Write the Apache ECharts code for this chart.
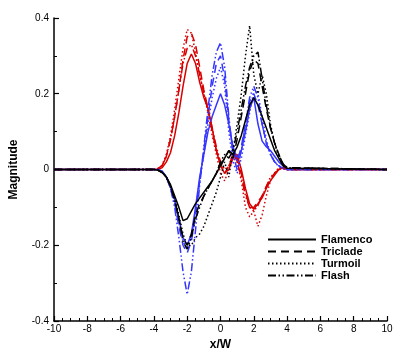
<!DOCTYPE html>
<html>
<head>
<meta charset="utf-8">
<script src="https://cdn.jsdelivr.net/npm/echarts@6/dist/echarts.min.js"></script>
<style>
html, body { margin: 0; padding: 0; background: #fff; }
#profile { width: 407px; height: 362px; }
</style>
</head>
<body>
<div id="profile"></div>
<script>
/*****Data start*****/
var xs = [-10, -4, -3.75, -3.5, -3.25, -3, -2.75, -2.5, -2.25, -2, -1.75, -1.5, -1.25, -1, -0.75, -0.5, -0.25,
	0, 0.25, 0.5, 0.75, 1, 1.25, 1.5, 1.75, 2, 2.25, 2.5, 2.75, 3, 3.25, 3.5, 3.75, 4, 10];

// red set
var flamencoRed = [0, 0, 0, 0.005, 0.02, 0.045, 0.09, 0.15, 0.22, 0.28, 0.305, 0.28, 0.23, 0.19, 0.16, 0.11, 0.05,
	0.01, -0.01, 0, 0.03, 0.04, 0, -0.05, -0.09, -0.105, -0.09, -0.075, -0.05, -0.03, -0.015, 0, 0.005, 0, 0];
var tricladeRed = [0, 0, 0.003, 0.01, 0.035, 0.08, 0.14, 0.21, 0.29, 0.35, 0.36, 0.33, 0.27, 0.21, 0.16, 0.10, 0.05,
	0.015, -0.01, 0.01, 0.04, 0.03, -0.01, -0.06, -0.10, -0.10, -0.085, -0.07, -0.045, -0.025, -0.01, 0, 0.005, 0, 0];
var turmoilRed = [0, 0, 0.003, 0.012, 0.04, 0.09, 0.16, 0.24, 0.32, 0.37, 0.36, 0.31, 0.25, 0.20, 0.15, 0.09, 0.04,
	-0.01, -0.03, 0, 0.05, 0.02, -0.03, -0.10, -0.125, -0.11, -0.15, -0.12, -0.07, -0.03, -0.01, 0.005, 0.003, 0, 0];
var flashRed = [0, 0, 0.003, 0.01, 0.035, 0.08, 0.14, 0.21, 0.28, 0.32, 0.33, 0.30, 0.25, 0.20, 0.16, 0.11, 0.06,
	0.02, 0, 0.01, 0.03, 0.02, -0.02, -0.07, -0.10, -0.11, -0.095, -0.07, -0.045, -0.02, -0.01, 0, 0.003, 0, 0];

// blue set
var flamencoBlue = [0, 0, 0, -0.005, -0.02, -0.045, -0.08, -0.13, -0.18, -0.20, -0.17, -0.10, -0.02, 0.04, 0.10, 0.14, 0.17,
	0.20, 0.17, 0.12, 0.06, 0.03, 0.05, 0.10, 0.16, 0.19, 0.12, 0.075, 0.06, 0.05, 0.035, 0.02, 0.01, 0, 0];
var tricladeBlue = [0, 0, 0, -0.005, -0.02, -0.05, -0.09, -0.15, -0.20, -0.22, -0.19, -0.12, -0.03, 0.05, 0.14, 0.22, 0.28,
	0.30, 0.24, 0.13, 0.05, 0.02, 0.06, 0.12, 0.18, 0.20, 0.17, 0.12, 0.07, 0.04, 0.02, 0.01, 0.003, 0, 0];
var turmoilBlue = [0, 0, 0, -0.005, -0.02, -0.05, -0.09, -0.14, -0.19, -0.21, -0.18, -0.11, -0.03, 0.04, 0.12, 0.19, 0.24,
	0.27, 0.22, 0.10, 0.02, -0.01, 0.03, 0.09, 0.15, 0.21, 0.20, 0.14, 0.08, 0.04, 0.02, 0.008, 0.002, 0, 0];
var flashBlue = [0, 0, 0, -0.005, -0.02, -0.05, -0.10, -0.18, -0.27, -0.33, -0.27, -0.16, -0.04, 0.06, 0.16, 0.25, 0.31,
	0.335, 0.27, 0.14, 0.04, 0, 0.05, 0.12, 0.19, 0.22, 0.19, 0.12, 0.07, 0.04, 0.02, 0.01, 0.003, 0, 0];

// black set
var flamencoBlack = [0, 0, -0.002, -0.008, -0.02, -0.04, -0.07, -0.10, -0.135, -0.13, -0.11, -0.09, -0.075, -0.06, -0.045, -0.03, -0.01,
	0.01, 0.03, 0.05, 0.04, 0.06, 0.09, 0.13, 0.17, 0.19, 0.17, 0.14, 0.11, 0.08, 0.05, 0.03, 0.01, 0.003, 0];
var tricladeBlack = [0, 0, -0.002, -0.008, -0.02, -0.045, -0.08, -0.13, -0.18, -0.20, -0.17, -0.12, -0.09, -0.07, -0.05, -0.03, -0.01,
	0.01, 0.03, 0.05, 0.03, 0.08, 0.14, 0.20, 0.26, 0.29, 0.28, 0.22, 0.16, 0.11, 0.07, 0.04, 0.015, 0.005, 0];
var turmoilBlack = [0, 0, -0.002, -0.008, -0.02, -0.045, -0.08, -0.12, -0.17, -0.20, -0.20, -0.18, -0.17, -0.15, -0.12, -0.09, -0.06,
	-0.02, 0.02, -0.02, 0.05, 0.12, 0.20, 0.30, 0.38, 0.25, 0.20, 0.25, 0.20, 0.12, 0.07, 0.03, 0.01, 0.003, 0];
var flashBlack = [0, 0, -0.002, -0.008, -0.02, -0.045, -0.08, -0.13, -0.19, -0.21, -0.18, -0.13, -0.10, -0.07, -0.05, -0.03, -0.01,
	0.02, 0.04, 0.03, 0.05, 0.10, 0.16, 0.22, 0.27, 0.30, 0.31, 0.24, 0.17, 0.11, 0.07, 0.04, 0.015, 0.005, 0];

var legendNames = ['Flamenco', 'Triclade', 'Turmoil', 'Flash'];
/*****Data end*****/

var dashStyles = ['solid', [8, 5], [1.5, 2.5], [8, 2.5, 1.5, 2.5, 1.5, 2.5]];
var colors = { red: '#d80000', blue: '#3535ff', black: '#000000' };

function pairs(vals) {
	var out = [];
	for (var i = 0; i < xs.length; i++) {
		out.push([xs[i], vals[i]]);
	}
	return out;
}

function makeSeries(name, vals, color, styleIdx) {
	return {
		name: name,
		type: 'line',
		symbol: 'none',
		data: pairs(vals),
		lineStyle: { color: color, width: 1.5, type: dashStyles[styleIdx] },
		itemStyle: { color: color },
		z: color == colors.black ? 3 : 2
	};
}

var series = [];
var redSet = [flamencoRed, tricladeRed, turmoilRed, flashRed];
var blueSet = [flamencoBlue, tricladeBlue, turmoilBlue, flashBlue];
var blackSet = [flamencoBlack, tricladeBlack, turmoilBlack, flashBlack];
for (var k = 0; k < 4; k++) {
	series.push(makeSeries(legendNames[k] + ' red', redSet[k], colors.red, k));
	series.push(makeSeries(legendNames[k] + ' blue', blueSet[k], colors.blue, k));
}
for (var k = 0; k < 4; k++) {
	series.push(makeSeries(legendNames[k], blackSet[k], colors.black, k));
}

var font = 'Liberation Sans, Arial, Helvetica, sans-serif';

var option = {
	animation: false,
	backgroundColor: '#fff',
	grid: { left: 53, right: 20, top: 18, bottom: 41 },
	legend: {
		data: legendNames,
		orient: 'vertical',
		left: 262,
		top: 229,
		itemWidth: 48,
		itemHeight: 12,
		itemGap: 1,
		itemStyle: { opacity: 0 },// hide the round marker, keep the line
		textStyle: { fontFamily: font, fontWeight: 'bold', fontSize: 11, color: '#000' }
	},
	xAxis: {
		type: 'value',
		min: -10,
		max: 10,
		interval: 2,
		name: 'x/W',
		nameLocation: 'middle',
		nameGap: 17,
		nameTextStyle: { fontFamily: font, fontWeight: 'bold', fontSize: 12, color: '#000' },
		axisLine: { onZero: false, lineStyle: { color: '#000', width: 1.5 } },
		axisTick: { inside: true, length: 5, lineStyle: { color: '#000', width: 1.2 } },
		minorTick: { show: true, splitNumber: 4, length: 3, lineStyle: { color: '#000', width: 1 } },
		axisLabel: { fontFamily: font, fontSize: 10, color: '#000', margin: 3 },
		splitLine: { show: false }
	},
	yAxis: {
		type: 'value',
		min: -0.4,
		max: 0.4,
		interval: 0.2,
		name: 'Magnitude',
		nameLocation: 'middle',
		nameGap: 34,
		nameTextStyle: { fontFamily: font, fontWeight: 'bold', fontSize: 12, color: '#000' },
		axisLine: { onZero: false, lineStyle: { color: '#000', width: 1.5 } },
		axisTick: { inside: true, length: 5, lineStyle: { color: '#000', width: 1.2 } },
		minorTick: { show: true, splitNumber: 2, length: 3, lineStyle: { color: '#000', width: 1 } },
		axisLabel: { fontFamily: font, fontSize: 10, color: '#000', margin: 5 },
		splitLine: { show: false }
	},
	series: series
};

var myChart = echarts.init(document.getElementById('profile'));
myChart.setOption(option);
</script>
</body>
</html>
